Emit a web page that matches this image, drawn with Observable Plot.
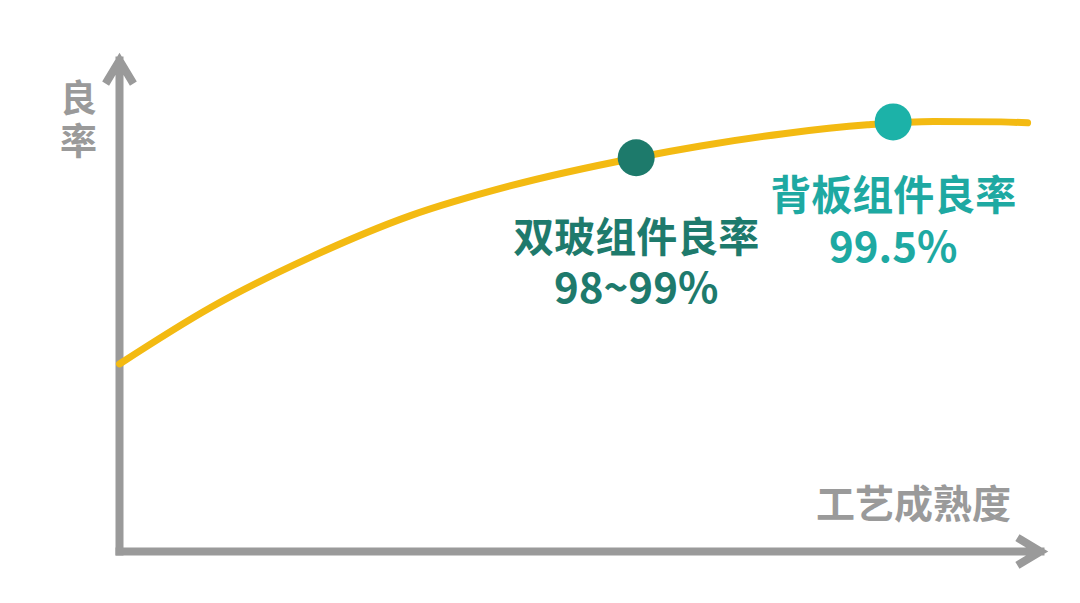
<!DOCTYPE html>
<html>
<head>
<meta charset="utf-8">
<script src="https://cdn.jsdelivr.net/npm/d3@7"></script>
<script src="https://cdn.jsdelivr.net/npm/@observablehq/plot@0.6"></script>
<style>
  html, body { margin: 0; padding: 0; background: #ffffff; }
  #chart { width: 1080px; height: 603px; }
  svg { font-family: "Noto Sans CJK SC", "Noto Sans", sans-serif; }
</style>
</head>
<body>
<div id="chart"></div>
<script>
// Curve: process maturity (x) vs yield (y), arbitrary 0–100 units
const maturity = [0, 9.9, 20.7, 31.6, 42.5, 56.1, 63.1, 72.1, 81.2, 88.4, 95.7, 98.6];
const yieldRate = [38.2, 49.7, 59.9, 68.4, 74.5, 80.2, 82.6, 85.1, 86.9, 87.6, 87.5, 87.3];

// Highlighted points
const pointNames = ["双玻组件良率", "背板组件良率"];
const pointValues = ["98~99%", "99.5%"];
const pointX = [56.1, 84.0];
const pointY = [80.2, 87.5];
const pointColors = ["#1d7a6b", "#1cb2a8"];
const textColors = ["#1e7a6c", "#1ea9a2"];

// Axis titles
const yTitle = "良\n率";
const xTitle = "工艺成熟度";
const axisMin = 0;
const axisMax = 100;

const curve = maturity.map((x, i) => ({x, y: yieldRate[i]}));
const points = pointX.map((x, i) => ({
  x, y: pointY[i], name: pointNames[i], value: pointValues[i],
  color: pointColors[i], text: textColors[i],
  dyName: i === 0 ? 81 : 75, dyValue: i === 0 ? 132 : 127
}));
const axes = [
  {x1: axisMin, y1: axisMin, x2: axisMin, y2: axisMax},
  {x1: axisMin, y1: axisMin, x2: axisMax, y2: axisMin}
];

const gray = "#9a9a9a";

const chart = Plot.plot({
  width: 1080,
  height: 603,
  marginLeft: 119,
  marginRight: 40,
  marginTop: 60,
  marginBottom: 52,
  x: {domain: [axisMin, axisMax], axis: null},
  y: {domain: [axisMin, axisMax], axis: null},
  style: {background: "#ffffff", fontFamily: "'Noto Sans CJK SC', sans-serif", overflow: "visible"},
  marks: [
    Plot.arrow(axes, {
      x1: "x1", y1: "y1", x2: "x2", y2: "y2",
      stroke: gray, strokeWidth: 8, headLength: 4.3, headAngle: 62,
      strokeLinecap: "square", strokeLinejoin: "miter", strokeMiterlimit: 4
    }),
    Plot.line(curve, {x: "x", y: "y", stroke: "#f3ba12", strokeWidth: 7, curve: "monotone-x"}),
    Plot.dot(points, {x: "x", y: "y", r: 18.5, fill: d => d.color, stroke: "none"}),
    ...points.map(p => Plot.text([p], {
      x: "x", y: "y", text: "name", fill: p.text, fontSize: 41, fontWeight: 700,
      dy: p.dyName, textAnchor: "middle", lineAnchor: "middle"
    })),
    ...points.map(p => Plot.text([p], {
      x: "x", y: "y", text: "value", fill: p.text, fontSize: 42, fontWeight: 700,
      dy: p.dyValue, textAnchor: "middle", lineAnchor: "middle"
    })),
    Plot.text([{x: axisMin, y: axisMax}], {
      x: "x", y: "y", text: () => yTitle, fill: gray, fontSize: 37, fontWeight: 700,
      dx: -41, dy: 59.5, lineHeight: 1.162, textAnchor: "middle", lineAnchor: "middle"
    }),
    Plot.text([{x: axisMax, y: axisMin}], {
      x: "x", y: "y", text: () => xTitle, fill: gray, fontSize: 39, fontWeight: 700,
      dx: -127, dy: -45.5, textAnchor: "middle", lineAnchor: "middle",
      letterSpacing: "5px"
    })
  ]
});
document.getElementById("chart").append(chart);
</script>
</body>
</html>
